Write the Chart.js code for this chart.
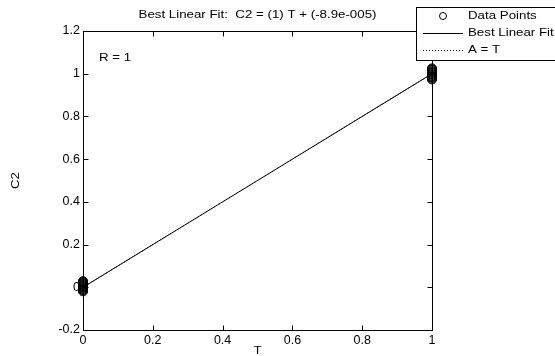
<!DOCTYPE html>
<html>
<head>
<meta charset="utf-8">
<script src="https://cdn.jsdelivr.net/npm/chart.js@4.4.0/dist/chart.umd.min.js"></script>
<style>
  html, body { margin: 0; padding: 0; background: #fff; }
  #wrap { width: 555px; height: 356px; }
</style>
</head>
<body>
<div id="wrap"><canvas id="fit-chart" width="555" height="356"></canvas></div>
<script>
// network outputs (C2) for the two target classes (T = 0 and T = 1)
var outputsAtZero = [-0.019, -0.015, -0.012, -0.008, -0.006, -0.002, 0.001, 0.003, 0.006, 0.009, 0.011, 0.014, 0.017, 0.02, 0.023, 0.026, 0.029];
var outputsAtOne = [0.973, 0.977, 0.981, 0.984, 0.988, 0.991, 0.995, 0.998, 1.001, 1.004, 1.008, 1.011, 1.015, 1.018, 1.022, 1.025];

// regression result
var fitSlope = 1;
var fitIntercept = -0.000089;
var fitR = 1;

var xRange = [0, 1];
var yRange = [-0.2, 1.2];
var tickStep = 0.2;

var FONT = '"Liberation Sans", Arial, sans-serif';
var TEXT_SIZE = 13.3;
var SQUASH = 0.8;

var points = [];
outputsAtZero.forEach(function (v) { points.push({ x: 0, y: v }); });
outputsAtOne.forEach(function (v) { points.push({ x: 1, y: v }); });

var fitLine = xRange.map(function (t) { return { x: t, y: fitSlope * t + fitIntercept }; });
var identityLine = xRange.map(function (t) { return { x: t, y: t }; });

function fmt(v) { return String(+v.toFixed(1)); }

function line(ctx, x1, y1, x2, y2) {
  ctx.beginPath();
  ctx.moveTo(x1, y1);
  ctx.lineTo(x2, y2);
  ctx.stroke();
}

// text a little flatter than normal, like the old figure export
function label(ctx, txt, x, y, align, angle) {
  ctx.save();
  ctx.translate(x, y);
  if (angle) ctx.rotate(angle);
  ctx.scale(1, SQUASH);
  ctx.font = TEXT_SIZE + 'px ' + FONT;
  ctx.fillStyle = '#000';
  ctx.textAlign = align || 'left';
  ctx.textBaseline = 'middle';
  ctx.fillText(txt, 0, 0);
  ctx.restore();
}

// axes box with inward ticks, annotations and the legend
var matlabLook = {
  id: 'matlabLook',
  beforeDatasetsDraw: function (chart) {
    var ctx = chart.ctx, a = chart.chartArea;
    var xs = chart.scales.x, ys = chart.scales.y;
    var L = Math.round(a.left) + 0.5, R = Math.round(a.right) + 0.5;
    var T = Math.round(a.top) + 0.5, B = Math.round(a.bottom) + 0.5;
    ctx.save();
    ctx.strokeStyle = '#000';
    ctx.lineWidth = 1;
    ctx.strokeRect(L, T, R - L, B - T);
    xs.ticks.forEach(function (t) {
      var px = Math.round(xs.getPixelForValue(t.value)) + 0.5;
      line(ctx, px, B, px, B - 5);
      line(ctx, px, T, px, T + 5);
    });
    ys.ticks.forEach(function (t) {
      var py = Math.round(ys.getPixelForValue(t.value)) + 0.5;
      line(ctx, L, py, L + 5, py);
      line(ctx, R, py, R - 5, py);
    });
    ctx.restore();
    label(ctx, 'R = ' + fitR, 99, 58);
  },
  afterDraw: function (chart) {
    var ctx = chart.ctx, a = chart.chartArea;
    var cx = (a.left + a.right) / 2;
    label(ctx, 'Best Linear Fit:  C2 = (' + fitSlope + ') T + (-8.9e-005)', cx, 15, 'center');
    label(ctx, 'T', cx, 351, 'center');
    label(ctx, 'C2', 16, (a.top + a.bottom) / 2, 'center', -Math.PI / 2);

    // legend box
    var lx = 416.5, ly = 7.5;
    var rows = [16, 33, 50];
    ctx.save();
    ctx.fillStyle = '#fff';
    ctx.strokeStyle = '#000';
    ctx.lineWidth = 1;
    ctx.fillRect(lx, ly, 150, 53);
    ctx.strokeRect(lx, ly, 150, 53);
    ctx.beginPath();
    ctx.arc(443, rows[0], 3.5, 0, Math.PI * 2);
    ctx.stroke();
    line(ctx, 423, rows[1] + 0.5, 463, rows[1] + 0.5);
    ctx.setLineDash([1, 2]);
    line(ctx, 423, rows[2] + 0.5, 463, rows[2] + 0.5);
    ctx.restore();
    label(ctx, 'Data Points', 468, rows[0]);
    label(ctx, 'Best Linear Fit', 468, rows[1]);
    label(ctx, 'A = T', 468, rows[2]);
  }
};

new Chart(document.getElementById('fit-chart'), {
  type: 'scatter',
  data: {
    datasets: [{
      label: 'Data Points',
      data: points,
      pointStyle: 'circle',
      pointRadius: 4.5,
      pointBorderWidth: 1,
      borderColor: '#000',
      backgroundColor: 'rgba(0,0,0,0)',
      clip: false
    }, {
      label: 'Best Linear Fit',
      data: fitLine,
      showLine: true,
      pointRadius: 0,
      borderColor: '#000',
      borderWidth: 1
    }, {
      label: 'A = T',
      data: identityLine,
      showLine: true,
      pointRadius: 0,
      borderColor: '#000',
      borderWidth: 1,
      borderDash: [1, 2]
    }]
  },
  options: {
    responsive: false,
    animation: false,
    devicePixelRatio: 1,
    layout: { padding: { top: 31, right: 123, left: 0, bottom: 0 } },
    plugins: {
      legend: { display: false },
      title: { display: false },
      tooltip: { enabled: false }
    },
    scales: {
      x: {
        type: 'linear',
        min: xRange[0],
        max: xRange[1],
        grid: { display: false, drawTicks: false, tickLength: 0 },
        border: { display: false },
        ticks: {
          stepSize: tickStep,
          padding: 3,
          color: '#000',
          font: { family: FONT, size: 12.5 },
          maxRotation: 0,
          callback: fmt
        },
        afterFit: function (s) { s.height = 26; }
      },
      y: {
        type: 'linear',
        min: yRange[0],
        max: yRange[1],
        grid: { display: false, drawTicks: false, tickLength: 0 },
        border: { display: false },
        ticks: {
          stepSize: tickStep,
          padding: 3,
          color: '#000',
          font: { family: FONT, size: 12.5 },
          callback: fmt
        },
        afterFit: function (s) { s.width = 83; }
      }
    }
  },
  plugins: [matlabLook]
});
</script>
</body>
</html>
